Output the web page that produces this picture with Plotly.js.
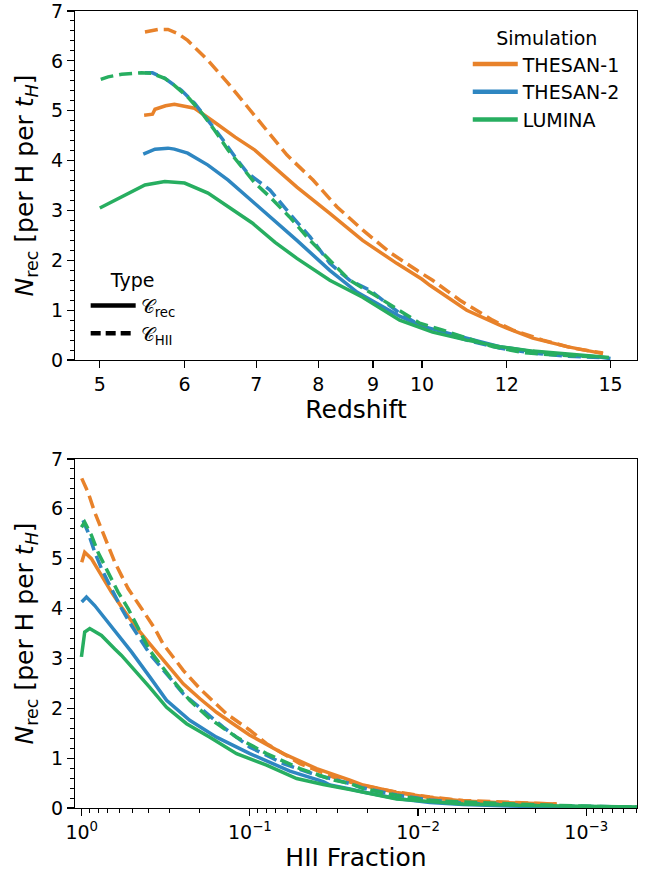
<!DOCTYPE html>
<html>
<head>
<meta charset="utf-8">
<script src="https://cdn.plot.ly/plotly-3.0.1.min.js"></script>
<style>html,body{margin:0;padding:0;background:#fff;}#chart{width:657px;height:879px;}</style>
</head>
<body>
<div id="chart"></div>
<script>
// ---------- Top panel: N_rec vs redshift ----------
const t1RecZ = [5.5, 5.6, 5.63, 5.76, 5.87, 6.13, 6.4, 6.69, 6.98, 7.29, 7.64, 8.2, 8.8, 9.47, 10.0, 10.17, 11.01, 11.82, 12.0, 12.69, 13.25, 13.66, 14.76];
const t1RecN = [4.91, 4.93, 5.03, 5.10, 5.13, 5.05, 4.77, 4.47, 4.21, 3.86, 3.47, 2.94, 2.40, 1.94, 1.62, 1.50, 1.00, 0.70, 0.64, 0.44, 0.34, 0.27, 0.13];
const t1HiiZ = [5.51, 5.67, 5.79, 5.91, 6.04, 6.31, 6.59, 6.79, 7.09, 7.48, 7.91, 8.33, 8.80, 9.33, 9.89, 10.23, 10.85, 11.64, 12.16, 12.97, 13.83, 14.76];
const t1HiiN = [6.58, 6.63, 6.63, 6.55, 6.41, 6.01, 5.55, 5.21, 4.70, 4.11, 3.61, 3.07, 2.61, 2.16, 1.80, 1.60, 1.20, 0.80, 0.60, 0.40, 0.24, 0.14];
const t2RecZ = [5.49, 5.63, 5.79, 5.87, 6.04, 6.31, 6.59, 6.87, 7.10, 7.64, 8.20, 8.70, 9.53, 10.0, 11.01, 11.82, 12.69, 13.66, 14.65, 15.0];
const t2RecN = [4.13, 4.23, 4.25, 4.23, 4.15, 3.91, 3.61, 3.27, 3.02, 2.40, 1.80, 1.36, 0.88, 0.68, 0.44, 0.27, 0.17, 0.10, 0.06, 0.03];
const t2HiiZ = [5.51, 5.60, 5.75, 5.96, 6.13, 6.31, 6.50, 6.69, 6.87, 7.09, 7.21, 7.52, 7.86, 8.20, 8.56, 8.94, 9.53, 9.95, 10.23, 11.01, 11.82, 12.69, 13.66, 14.65];
const t2HiiN = [5.76, 5.76, 5.65, 5.41, 5.15, 4.81, 4.45, 4.07, 3.75, 3.53, 3.41, 2.94, 2.47, 1.94, 1.60, 1.40, 0.94, 0.70, 0.60, 0.40, 0.24, 0.14, 0.08, 0.05];
const luRecZ = [5.0, 5.25, 5.51, 5.75, 6.0, 6.31, 6.59, 6.94, 7.29, 7.64, 8.20, 8.80, 9.53, 10.23, 11.01, 11.82, 12.69, 13.66, 14.95];
const luRecN = [3.05, 3.29, 3.51, 3.58, 3.55, 3.35, 3.07, 2.75, 2.36, 2.04, 1.60, 1.26, 0.80, 0.56, 0.40, 0.27, 0.18, 0.12, 0.05];
const luHiiZ = [5.01, 5.09, 5.24, 5.47, 5.59, 5.75, 5.87, 6.04, 6.23, 6.40, 6.59, 6.79, 6.98, 7.21, 7.52, 7.86, 8.20, 8.56, 9.07, 9.53, 9.95, 10.46, 11.01, 11.64, 12.42, 13.37, 14.65];
const luHiiN = [5.63, 5.68, 5.73, 5.76, 5.75, 5.65, 5.51, 5.28, 4.95, 4.61, 4.21, 3.87, 3.55, 3.27, 2.87, 2.40, 2.00, 1.60, 1.28, 1.00, 0.74, 0.60, 0.44, 0.27, 0.15, 0.10, 0.06];

// ---------- Bottom panel: N_rec vs HII fraction ----------
const t1RecF = [1.0, 0.96, 0.876, 0.763, 0.666, 0.58, 0.484, 0.403, 0.313, 0.249, 0.198, 0.158, 0.126, 0.100, 0.0633, 0.0401, 0.0254, 0.0212, 0.0134, 0.0085, 0.0054, 0.0034, 0.0015];
const t1RecNf = [4.93, 5.13, 5.00, 4.66, 4.33, 4.03, 3.66, 3.33, 2.89, 2.49, 2.19, 1.92, 1.69, 1.46, 1.09, 0.79, 0.56, 0.46, 0.31, 0.21, 0.14, 0.11, 0.08];
const t1HiiF = [1.0, 0.917, 0.837, 0.763, 0.698, 0.636, 0.58, 0.53, 0.441, 0.368, 0.328, 0.249, 0.198, 0.138, 0.100, 0.0796, 0.0504, 0.0319, 0.0254, 0.0212, 0.0134, 0.0085, 0.0054, 0.0034, 0.0022, 0.0015];
const t1HiiNf = [6.61, 6.33, 5.93, 5.60, 5.26, 4.93, 4.66, 4.40, 4.00, 3.60, 3.29, 2.76, 2.39, 1.89, 1.56, 1.29, 0.89, 0.62, 0.52, 0.45, 0.32, 0.22, 0.15, 0.12, 0.10, 0.08];
const t2RecF = [1.0, 0.937, 0.837, 0.698, 0.58, 0.506, 0.394, 0.313, 0.228, 0.158, 0.100, 0.0578, 0.0366, 0.0334, 0.0254, 0.0212, 0.0134, 0.0085, 0.0054, 0.0022, 0.0005];
const t2RecNf = [4.13, 4.23, 4.06, 3.73, 3.39, 3.13, 2.63, 2.16, 1.76, 1.42, 1.09, 0.74, 0.53, 0.46, 0.38, 0.32, 0.19, 0.11, 0.07, 0.03, 0.01];
const t2HiiF = [0.982, 0.917, 0.837, 0.763, 0.666, 0.58, 0.506, 0.422, 0.394, 0.313, 0.249, 0.190, 0.144, 0.100, 0.0633, 0.0401, 0.0254, 0.0212, 0.0134, 0.0085, 0.0054, 0.0022, 0.0008, 0.0005];
const t2HiiNf = [5.77, 5.53, 5.13, 4.80, 4.40, 4.00, 3.66, 3.23, 3.09, 2.69, 2.29, 1.96, 1.62, 1.22, 0.89, 0.66, 0.49, 0.40, 0.26, 0.16, 0.10, 0.05, 0.03, 0.02];
const luRecF = [1.004, 0.98, 0.96, 0.896, 0.763, 0.636, 0.58, 0.394, 0.313, 0.238, 0.173, 0.120, 0.0796, 0.0527, 0.0366, 0.0254, 0.0134, 0.0054, 0.0022, 0.0005];
const luRecNf = [3.03, 3.35, 3.53, 3.60, 3.46, 3.19, 3.06, 2.42, 2.02, 1.69, 1.42, 1.09, 0.86, 0.59, 0.47, 0.37, 0.18, 0.08, 0.05, 0.02];
const luHiiF = [1.004, 0.96, 0.876, 0.80, 0.698, 0.608, 0.53, 0.441, 0.394, 0.299, 0.228, 0.173, 0.120, 0.0796, 0.0504, 0.0319, 0.0254, 0.0212, 0.0134, 0.0085, 0.0054, 0.0034, 0.0022, 0.00086, 0.0005];
const luHiiNf = [5.63, 5.73, 5.47, 5.13, 4.73, 4.33, 4.00, 3.50, 3.16, 2.63, 2.16, 1.79, 1.42, 1.09, 0.79, 0.56, 0.49, 0.39, 0.25, 0.15, 0.12, 0.10, 0.07, 0.03, 0.02];

// ---------- Labels ----------
const simNames = ['THESAN-1', 'THESAN-2', 'LUMINA'];
const simColors = ['#e8822a', '#2e86c1', '#27ae60'];
const typeNames = ['𝒞<sub>rec</sub>', '𝒞<sub>HII</sub>'];
const zTicks = [5, 6, 7, 8, 9, 10, 12, 15];
const fTicks = [1, 0.1, 0.01, 0.001];
const fTickText = ['10<sup>0</sup>', '10<sup>−1</sup>', '10<sup>−2</sup>', '10<sup>−3</sup>'];

const FONT = 'DejaVu Sans, Liberation Sans, sans-serif';
const LW = 3.5;
const DASH = '13px,6px';

function line(x, y, color, dashed, xa, ya) {
  return {x: x, y: y, xaxis: xa, yaxis: ya, mode: 'lines', type: 'scatter',
    line: {color: color, width: LW, dash: dashed ? DASH : 'solid'},
    showlegend: false, hoverinfo: 'skip'};
}

const topSets = [[t1RecZ, t1RecN, t1HiiZ, t1HiiN], [t2RecZ, t2RecN, t2HiiZ, t2HiiN], [luRecZ, luRecN, luHiiZ, luHiiN]];
const botSets = [[t1RecF, t1RecNf, t1HiiF, t1HiiNf], [t2RecF, t2RecNf, t2HiiF, t2HiiNf], [luRecF, luRecNf, luHiiF, luHiiNf]];

const traces = [];
topSets.forEach((s, i) => {
  traces.push(line(s[0], s[1], simColors[i], false, 'x', 'y'));
  traces.push(line(s[2], s[3], simColors[i], true, 'x', 'y'));
});
botSets.forEach((s, i) => {
  traces.push(line(s[0], s[1], simColors[i], false, 'x2', 'y2'));
  traces.push(line(s[2], s[3], simColors[i], true, 'x2', 'y2'));
});
// legend entries
simNames.forEach((n, i) => {
  traces.push({x: [null], y: [null], xaxis: 'x', yaxis: 'y', mode: 'lines', type: 'scatter', name: n,
    line: {color: simColors[i], width: 4.5}, legend: 'legend', showlegend: true});
});
typeNames.forEach((n, i) => {
  traces.push({x: [null], y: [null], xaxis: 'x', yaxis: 'y', mode: 'lines', type: 'scatter', name: n,
    line: {color: 'black', width: 4.5, dash: i ? '10px,5px' : 'solid'}, legend: 'legend2', showlegend: true});
});

// minor ticks for log HII axis
const fMinor = [];
for (let k = 0; k <= 3; k++) {
  for (let m = 2; m <= 9; m++) fMinor.push(m * Math.pow(10, -k - 1));
}

const axBase = {
  showline: true, linecolor: 'black', linewidth: 1.2, mirror: true,
  ticks: 'outside', ticklen: 7, tickwidth: 1.2, tickcolor: 'black',
  showgrid: false, zeroline: false, ticklabeloverflow: 'allow',
  tickfont: {family: FONT, size: 19, color: 'black'}
};
const yBase = Object.assign({}, axBase, {
  range: [0, 7], tickmode: 'linear', tick0: 0, dtick: 1,
  minor: {ticks: 'outside', ticklen: 4, tickwidth: 1, tickcolor: 'black', dtick: 0.2, tick0: 0, showgrid: false},
  title: {text: '<i>N</i><sub>rec</sub> [per H per <i>t</i><sub><i>H</i></sub>]', font: {family: FONT, size: 25, color: 'black'}, standoff: 10}
});

const layout = {
  width: 657, height: 879,
  margin: {l: 75, r: 20, t: 11, b: 71},
  paper_bgcolor: 'white', plot_bgcolor: 'white',
  font: {family: FONT, color: 'black'},
  xaxis: Object.assign({}, axBase, {
    type: 'log', range: [Math.log10(4.74), Math.log10(15.88)], anchor: 'y', domain: [0, 1],
    tickmode: 'array', tickvals: zTicks, ticktext: zTicks.map(String),
    title: {text: 'Redshift', font: {family: FONT, size: 25, color: 'black'}, standoff: 6}
  }),
  yaxis: Object.assign({}, yBase, {domain: [0.562, 1], anchor: 'x'}),
  xaxis2: Object.assign({}, axBase, {
    type: 'log', range: [0.04, -3.302], anchor: 'y2', domain: [0, 1],
    tickmode: 'array', tickvals: fTicks, ticktext: fTickText,
    minor: {tickmode: 'array', tickvals: fMinor, ticks: 'outside', ticklen: 4, tickwidth: 1, tickcolor: 'black', showgrid: false},
    title: {text: 'HII Fraction', font: {family: FONT, size: 25, color: 'black'}, standoff: 6}
  }),
  yaxis2: Object.assign({}, yBase, {domain: [0, 0.438], anchor: 'x2'}),
  legend: {
    x: 0.98, xanchor: 'right', y: 0.988, yanchor: 'top',
    bgcolor: 'rgba(0,0,0,0)', borderwidth: 0, itemwidth: 45,
    font: {family: FONT, size: 19, color: 'black'},
    title: {text: 'Simulation', side: 'top center', font: {family: FONT, size: 19, color: 'black'}},
    traceorder: 'normal'
  },
  legend2: {
    x: 0.019, xanchor: 'left', y: 0.685, yanchor: 'top',
    bgcolor: 'rgba(0,0,0,0)', borderwidth: 0, itemwidth: 45,
    font: {family: FONT, size: 19, color: 'black'},
    title: {text: 'Type', side: 'top center', font: {family: FONT, size: 19, color: 'black'}},
    traceorder: 'normal'
  }
};

Plotly.newPlot('chart', traces, layout, {displayModeBar: false, staticPlot: true});
</script>
</body>
</html>
